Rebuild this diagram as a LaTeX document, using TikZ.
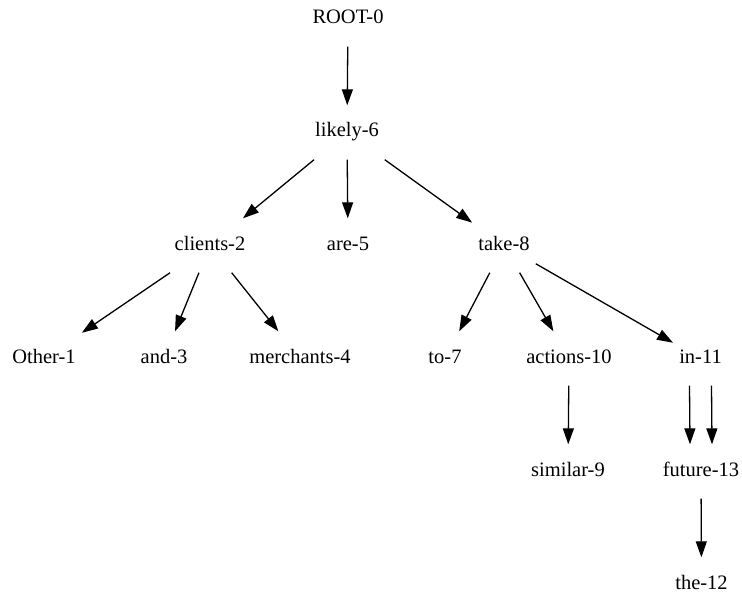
\documentclass[tikz,border=0pt]{standalone}
\usepackage{fontspec}
\setmainfont{Liberation Serif}
\usepackage{tikz}
\usetikzlibrary{arrows.meta}

\begin{document}
\begin{tikzpicture}[x=1pt, y=-1pt,
    word/.style={inner xsep=6pt, inner ysep=0pt, minimum height=54pt,
        text height=14pt, text depth=5pt, font=\fontsize{20.5}{24}\selectfont},
    dep/.style={-{Triangle[length=16pt,width=11pt]}, line width=1.3pt}]
    \useasboundingbox (0,0) rectangle (742,599);
    \node [word] (root) at (348,19.5) {ROOT-0};
    \node [word] (likely) at (347,132.5) {likely-6};
    \node [word] (clients) at (210,245.5) {clients-2};
    \node [word] (are) at (348,245.5) {are-5};
    \node [word] (take) at (504,245.5) {take-8};
    \node [word] (other) at (44,358.5) {Other-1};
    \node [word] (and) at (164,358.5) {and-3};
    \node [word] (merchants) at (300,358.5) {merchants-4};
    \node [word] (to) at (445,358.5) {to-7};
    \node [word] (actions) at (569,358.5) {actions-10};
    \node [word] (in) at (700.5,358.5) {in-11};
    \node [word] (similar) at (568,471.5) {similar-9};
    \node [word] (future) at (701,471.5) {future-13};
    \node [word] (the) at (701.5,584.5) {the-12};
    \path[dep]
        (root) edge (likely)
        (likely) edge (clients)
        (likely) edge (are)
        (likely) edge (take)
        (clients) edge (other)
        (clients) edge (and)
        (clients) edge (merchants)
        (take) edge (to)
        (take) edge (actions)
        (take) edge (in)
        (actions) edge (similar)
        ([xshift=-11pt]in.south) edge ([xshift=-11pt]future.north)
        ([xshift=11pt]in.south) edge ([xshift=11pt]future.north)
        (future) edge (the);
\end{tikzpicture}
\end{document}
